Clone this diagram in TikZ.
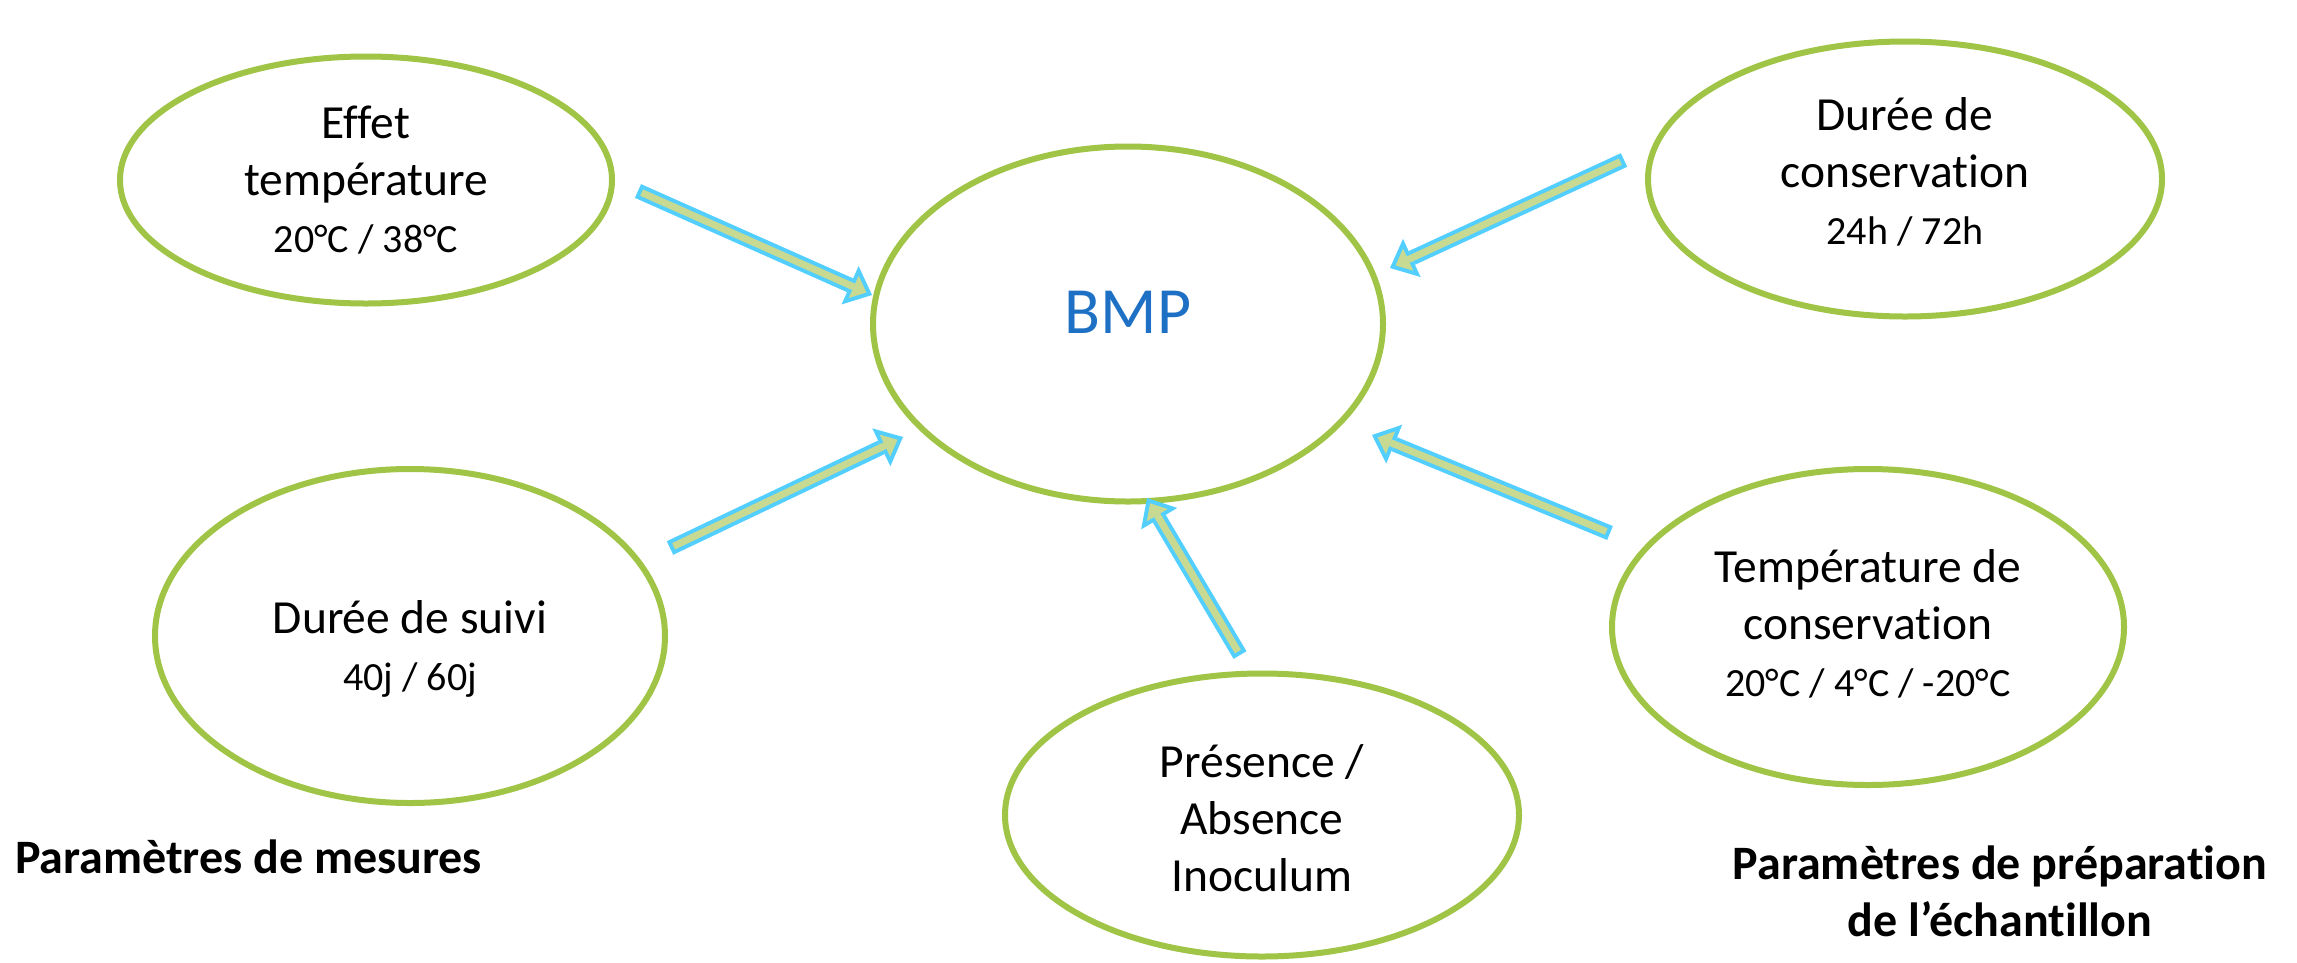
\documentclass[tikz,border=0pt]{standalone}
\usepackage{fontspec}
\setmainfont{Carlito}[Ligatures=NoCommon]
\usetikzlibrary{arrows.meta,shapes.geometric}

\definecolor{ringgreen}{RGB}{160,196,70}
\definecolor{arrowcyan}{RGB}{82,206,255}
\definecolor{arrowfill}{RGB}{200,218,146}
\definecolor{bmpblue}{RGB}{30,112,196}

\newcommand\lblbig{\fontsize{47.5}{57}\selectfont}
\newcommand\lblsmall{\fontsize{40}{55}\selectfont}
\newcommand\lblhead{\fontsize{48}{57}\selectfont\bfseries}

\tikzset{
  ring/.style={ellipse, draw=ringgreen, line width=6pt, inner sep=0pt},
  ringtext/.style={align=center, text=black, font=\lblbig, inner sep=0pt},
  % outlined block arrow: cyan body and head, pale green core on top
  blockarrow/.style={draw=arrowfill, line width=7pt, line cap=butt,
    shorten <=4pt, shorten >=6.1pt,
    -{Triangle[width=24.3pt,length=13.9pt,line width=0pt]},
    preaction={draw=arrowcyan, line width=15pt, shorten <=0pt, shorten >=0pt,
      -{Triangle[width=42pt,length=24pt,line width=0pt]}}},
  headlbl/.style={font=\lblhead, inner sep=0pt, align=center}
}

\begin{document}
\begin{tikzpicture}[x=1pt,y=-1pt]
  \path[use as bounding box, fill=white] (0,0) rectangle (2297,962);

  % central node
  \node[ring, minimum width=510pt, minimum height=355pt,
        text=bmpblue, font=\fontsize{66}{70}\selectfont,
        text height=42pt, text depth=24pt] (bmp) at (1128,324) {BMP};

  % parameter nodes, each with its caption set at the centre
  \node[ring, minimum width=492pt, minimum height=247pt,
        label={[ringtext, name=effet-t]center:{Effet\\température\\{\lblsmall 20°C / 38°C}}}]
        (effet) at (366,180) {};
  \node[ring, minimum width=514pt, minimum height=275pt,
        label={[ringtext, name=dcons-t, yshift=7pt]center:{Durée de\\conservation\\{\lblsmall 24h / 72h}}}]
        (dcons) at (1905,179) {};
  \node[ring, minimum width=510pt, minimum height=334pt,
        label={[ringtext, name=suivi-t, yshift=-13pt]center:{Durée de suivi\\{\lblsmall 40j / 60j}}}]
        (suivi) at (410,636) {};
  \node[ring, minimum width=514pt, minimum height=283pt,
        label={[ringtext, name=pres-t, yshift=-3pt]center:{Présence /\\Absence\\Inoculum}}]
        (pres) at (1262,815) {};
  \node[ring, minimum width=512pt, minimum height=316pt,
        label={[ringtext, name=tcons-t, yshift=3pt]center:{Température de\\conservation\\{\lblsmall 20°C / 4°C / -20°C}}}]
        (tcons) at (1868,627) {};

  % arrow ends
  \coordinate (t1) at (638,191);  \coordinate (h1) at (872,295);
  \coordinate (t2) at (670,548);  \coordinate (h2) at (903,437);
  \coordinate (t3) at (1240,655); \coordinate (h3) at (1147,498);
  \coordinate (t4) at (1610,533); \coordinate (h4) at (1372,435);
  \coordinate (t5) at (1624,160); \coordinate (h5) at (1390,268);

  \draw[blockarrow] (t1) -- (h1);
  \draw[blockarrow] (t2) -- (h2);
  \draw[blockarrow] (t3) -- (h3);
  \draw[blockarrow] (t4) -- (h4);
  \draw[blockarrow] (t5) -- (h5);

  % group captions
  \node[headlbl, anchor=base west] (cmes) at (15,873) {Paramètres de mesures};
  \node[headlbl] (cprep) at (2000,891) {Paramètres de préparation\\de l’échantillon};
\end{tikzpicture}
\end{document}
